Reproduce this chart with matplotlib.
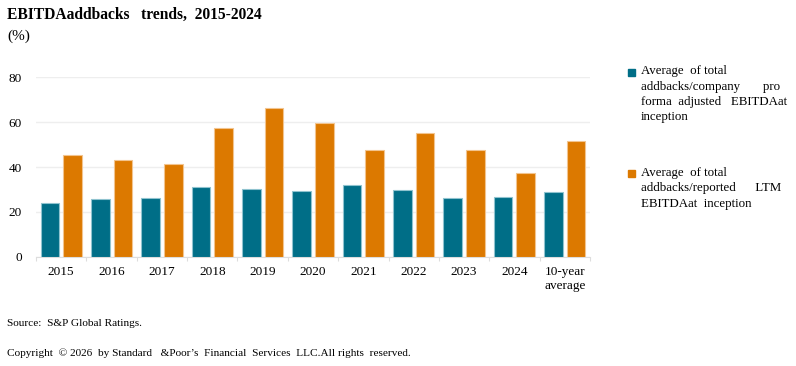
import matplotlib
matplotlib.use("Agg")
import matplotlib.pyplot as plt
import numpy as np
from matplotlib.patches import Rectangle

categories = ["2015", "2016", "2017", "2018", "2019", "2020", "2021", "2022", "2023", "2024", "10-year\naverage"]
pro_forma = [24.1, 25.7, 26.2, 31.1, 30.2, 29.1, 32.1, 29.6, 26.2, 26.5, 28.7]
ltm = [45.5, 43.1, 41.2, 57.2, 66.2, 59.5, 47.6, 55.0, 47.4, 37.2, 51.6]
yticks = [0, 20, 40, 60, 80]
series_labels = [
    "Average  of total\naddbacks/company       pro\nforma  adjusted   EBITDAat\ninception",
    "Average  of total\naddbacks/reported      LTM\nEBITDAat  inception",
]
title = "EBITDAaddbacks   trends,  2015-2024"
unit = "(%)"
source = "Source:  S&P Global Ratings."
copyright_txt = "Copyright  \u00a9 2026  by Standard   &Poor\u2019s  Financial  Services  LLC.All rights  reserved."

TEAL = "#006e87"
ORANGE = "#dc7900"

plt.rcParams["font.family"] = ["Liberation Serif", "DejaVu Serif"]

W, H = 796, 366
fig = plt.figure(figsize=(W / 100, H / 100), dpi=100)
ax = fig.add_axes([36 / W, 1 - 256.7 / H, (590 - 36) / W, (256.7 - 77.3) / H])

x = np.arange(len(categories))
bw = 0.37
off = 0.225
ax.bar(x - off, pro_forma, bw, color=TEAL, edgecolor="#8fc3cf", linewidth=0.8, zorder=3)
ax.bar(x + off, ltm, bw, color=ORANGE, edgecolor="#f2c48f", linewidth=0.8, zorder=3)

ax.set_xlim(-0.5, len(categories) - 0.5)
ax.set_ylim(0, 80)
ax.set_yticks(yticks)
ax.set_yticklabels([str(v) for v in yticks], fontsize=9.5)
ax.tick_params(axis="y", length=0, pad=10)
ax.set_xticks(x)
ax.set_xticklabels(categories, fontsize=9.5, linespacing=1.15, va="top")
ax.tick_params(axis="x", which="major", length=0, pad=7)
ax.set_xticks(np.arange(-0.5, len(categories), 1.0), minor=True)
ax.tick_params(axis="x", which="minor", length=3, color="#dddddd", width=0.8)
ax.grid(axis="y", color="#eeeeee", linewidth=1.0, zorder=0)
for s in ["top", "right", "left"]:
    ax.spines[s].set_visible(False)
ax.spines["bottom"].set_color("#dddddd")

fig.text(7 / W, 1 - 15 / H, title, fontsize=11.2, fontweight="bold", va="center", ha="left")
fig.text(7 / W, 1 - 36 / H, unit, fontsize=11, va="center", ha="left")

for lab, col, ytop in [(series_labels[0], TEAL, 71.7), (series_labels[1], ORANGE, 173.3)]:
    fig.patches.append(Rectangle((628 / W, 1 - (ytop + 4) / H), 7 / W, 7 / H,
                                 transform=fig.transFigure, color=col))
    fig.text(641 / W, 1 - (ytop - 6.5) / H, lab, fontsize=9.3, va="top", ha="left", linespacing=1.38)

fig.text(7 / W, 1 - 323 / H, source, fontsize=8.1, va="center", ha="left")
fig.text(7 / W, 1 - 353 / H, copyright_txt, fontsize=8.1, va="center", ha="left")

fig.savefig("out.png", dpi=100)
